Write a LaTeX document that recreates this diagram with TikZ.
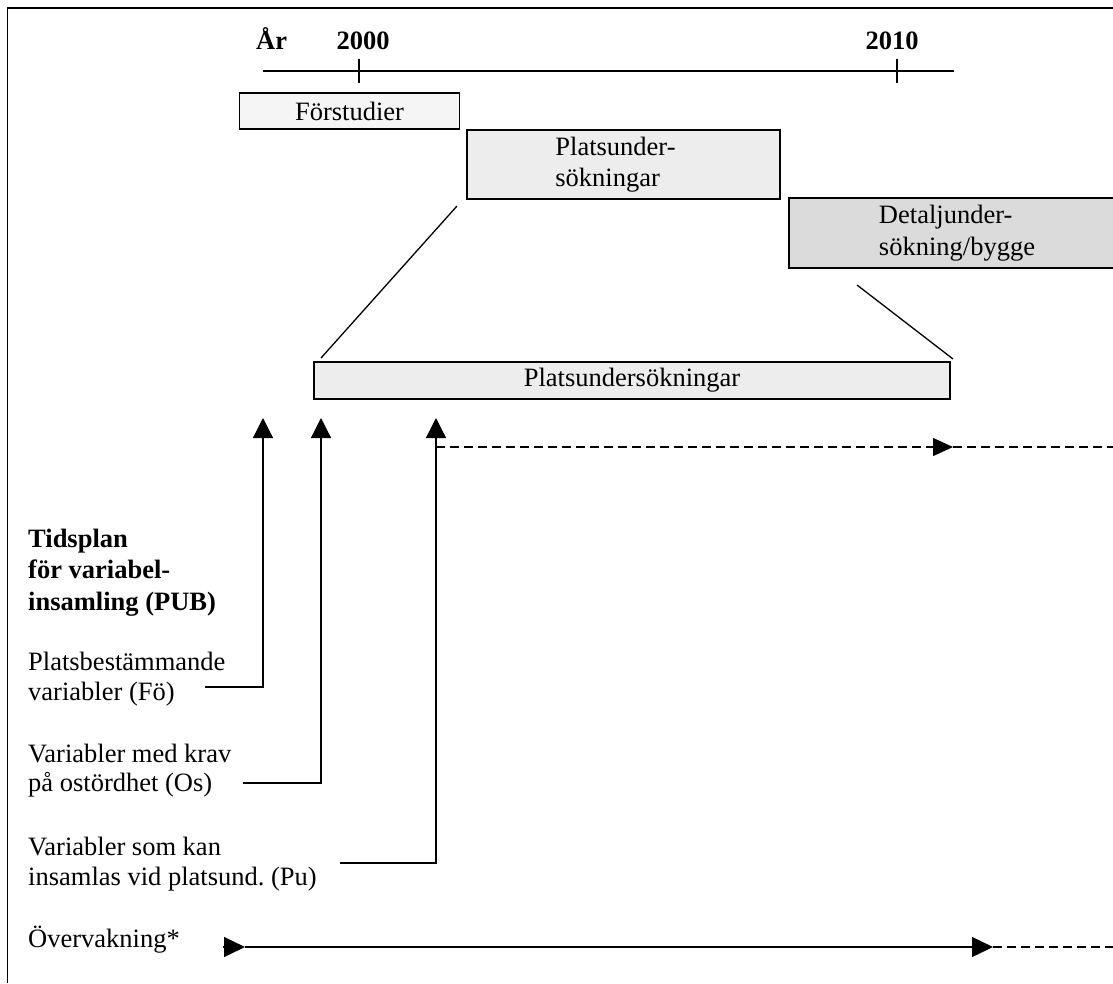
\documentclass[tikz,border=0pt]{standalone}
\usepackage{fontspec}
\setmainfont{Liberation Serif}
\usetikzlibrary{arrows.meta}
\tikzset{
  txt/.style={font=\fontsize{26.5pt}{31.5pt}\selectfont, inner sep=0pt, anchor=base west},
  btxt/.style={txt, font=\fontsize{26.5pt}{31.5pt}\selectfont\bfseries},
  yr/.style={btxt, anchor=base},
  phase/.style={draw=black, line width=1.8pt, inner sep=0pt, align=left,
     font=\fontsize{26.5pt}{31.5pt}\selectfont},
  conn/.style={draw=black, line width=1.3pt},
  uparrow/.style={conn, -{Triangle[width=20pt,length=20pt]}},
  rarrow/.style={conn, -{Triangle[width=20pt,length=21pt]}},
  dashline/.style={conn, dash pattern=on 9pt off 5pt},
}
\begin{document}
\begin{tikzpicture}[x=1pt,y=-1pt]
\clip (0,0) rectangle (1113,983);
\useasboundingbox (0,0) rectangle (1113,983);
% frame
\draw[line width=1.6pt] (7.5,983) -- (7.5,8) -- (1113,8);

% timeline
\coordinate (tlA) at (263,71);
\coordinate (tlB) at (954,71);
\draw[conn] (tlA) -- (tlB);
\coordinate (t2000a) at (359,59);
\coordinate (t2000b) at (359,83);
\coordinate (t2010a) at (897,59);
\coordinate (t2010b) at (897,83);
\draw[conn] (t2000a) -- (t2000b);
\draw[conn] (t2010a) -- (t2010b);
\node[btxt] (ar) at (256,49) {År};
\node[yr] (y2000) at (363,49) {2000};
\node[yr] (y2010) at (892,49) {2010};

% phase boxes
\node[phase, fill=black!4, minimum width=220pt, minimum height=36pt] (forst) at (349.5,111) {Förstudier};
\node[phase, fill=black!7, minimum width=313pt, minimum height=69pt] (plats) at (623.5,164.5) {Platsunder-\hspace*{16pt}\\sökningar\hspace*{16pt}};
\node[phase, fill=black!14, minimum width=336pt, minimum height=70pt] (detalj) at (957,233) {Detaljunder-\\sökning/bygge};
\node[phase, fill=black!7, minimum width=636pt, minimum height=37pt] (platsbig) at (632,380.5) {Platsundersökningar};

% zoom lines
\coordinate (zl1) at (457,206);
\coordinate (zl2) at (321,358);
\coordinate (zr1) at (857,285);
\coordinate (zr2) at (953,359);
\draw[conn] (zl1) -- (zl2);
\draw[conn] (zr1) -- (zr2);

% left labels
\node[btxt] (tid1) at (28,547) {Tidsplan};
\node[btxt] (tid2) at (28,578) {för variabel-};
\node[btxt] (tid3) at (28,610) {insamling (PUB)};

\node[txt] (fo1) at (28,670) {Platsbestämmande};
\node[txt] (fo2) at (28,700) {variabler (Fö)};
\node[txt] (os1) at (28,762) {Variabler med krav};
\node[txt] (os2) at (28,791) {på ostördhet (Os)};
\node[txt] (pu1) at (28,855) {Variabler som kan};
\node[txt] (pu2) at (28,885) {insamlas vid platsund.\ (Pu)};
\node[txt] (ov) at (28,947) {Övervakning*};

% connectors
\coordinate (foS) at (205,687);
\coordinate (foC) at (263,687);
\coordinate (foT) at (263,418);
\draw[uparrow] (foS) -- (foC) -- (foT);

\coordinate (osS) at (243,783);
\coordinate (osC) at (321,783);
\coordinate (osT) at (321,418);
\draw[uparrow] (osS) -- (osC) -- (osT);

\coordinate (puS) at (340,863);
\coordinate (puC) at (436,863);
\coordinate (puT) at (436,418);
\draw[uparrow] (puS) -- (puC) -- (puT);

\coordinate (puD0) at (436,447);
\coordinate (puD1) at (953,447);
\coordinate (puD2) at (1113,447);
\draw[dashline, -{Triangle[width=18pt,length=20pt]}] (puD0) -- (puD1);
\draw[dashline] (puD1) -- (puD2);

% monitoring
\coordinate (ov0) at (223,947);
\coordinate (ov1) at (245,947);
\coordinate (ov2) at (993,947);
\coordinate (ov3) at (1113,947);
\draw[rarrow] (ov0) -- (ov1);
\draw[rarrow] (ov1) -- (ov2);
\draw[dashline] (ov2) -- (ov3);
\end{tikzpicture}
\end{document}
